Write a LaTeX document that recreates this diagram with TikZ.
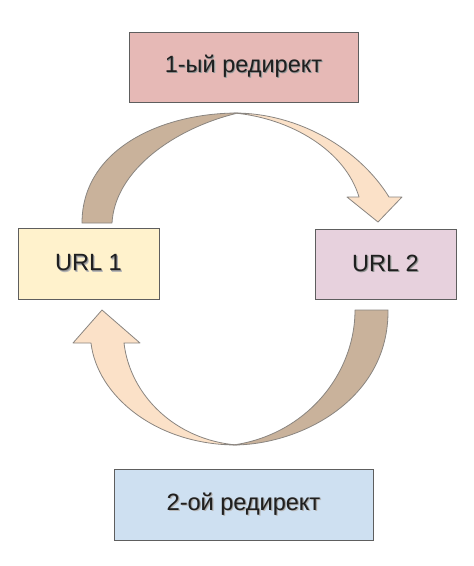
\documentclass[tikz,border=0pt]{standalone}
\usepackage{fontspec}
\setmainfont{Liberation Sans}
\definecolor{boxline}{HTML}{5E5E5E}
\definecolor{redfill}{HTML}{E6B9B6}
\definecolor{urlonefill}{HTML}{FFF2CC}
\definecolor{urltwofill}{HTML}{E7D1DD}
\definecolor{bluefill}{HTML}{CEE0F1}
\definecolor{brownfill}{HTML}{C9B29B}
\definecolor{peachfill}{HTML}{FBE1C8}
\definecolor{arrowline}{HTML}{8A8580}
\newcommand\shtxt[1]{\leavevmode\rlap{\kern1.4pt\raisebox{-1.4pt}{\textcolor{black!28}{#1}}}\rlap{\kern0.7pt\raisebox{-0.7pt}{\textcolor{black!45}{#1}}}#1}
\tikzset{
  box/.style={draw=boxline, line width=0.9pt, inner sep=0pt, font=\fontsize{23.5}{26}\selectfont, text=black!88},
  brownpart/.style={fill=brownfill, draw=arrowline, line width=0.8pt, line join=round},
  peachpart/.style={fill=peachfill, draw=arrowline, line width=0.8pt, line join=round},
}
\begin{document}
\begin{tikzpicture}[x=1pt,y=-1pt]
\useasboundingbox (0,0) rectangle (474,566);
% boxes
\node[box, fill=redfill, minimum width=229pt, minimum height=70pt] (r1) at (243.5,67) {\shtxt{1-ый редирект}};
\node[box, fill=urlonefill, minimum width=141pt, minimum height=71pt] (u1) at (88.5,263.5) {\shtxt{URL 1}};
\node[box, fill=urltwofill, minimum width=141pt, minimum height=70pt] (u2) at (385.5,264) {\shtxt{URL 2}};
\node[box, fill=bluefill, minimum width=259pt, minimum height=71pt] (r2) at (243.5,504.5) {\shtxt{2-ой редирект}};
% top arrow: brown back part
\path[brownpart] (82,223) .. controls (82,150) and (160,113) .. (238,113)
  .. controls (175,128) and (115,170) .. (112,223) -- cycle;
% top arrow: peach front part with head
\path[peachpart] (234,113) .. controls (300,113) and (360,150) .. (389,197)
  -- (402,197) -- (378,222) -- (347,197) -- (359,197)
  .. controls (345,150) and (290,118) .. (234,113) -- cycle;
% bottom arrow: brown back part
\path[brownpart] (355,310) -- (388,310)
  .. controls (389,400) and (300,445) .. (233,445)
  .. controls (305,435) and (355,375) .. (355,310) -- cycle;
% bottom arrow: peach front part with head
\path[peachpart] (102,310) -- (140,343) -- (124,343)
  .. controls (130,395) and (175,440) .. (237,445)
  .. controls (155,445) and (97,395) .. (91,343)
  -- (73,343) -- cycle;
\end{tikzpicture}
\end{document}
